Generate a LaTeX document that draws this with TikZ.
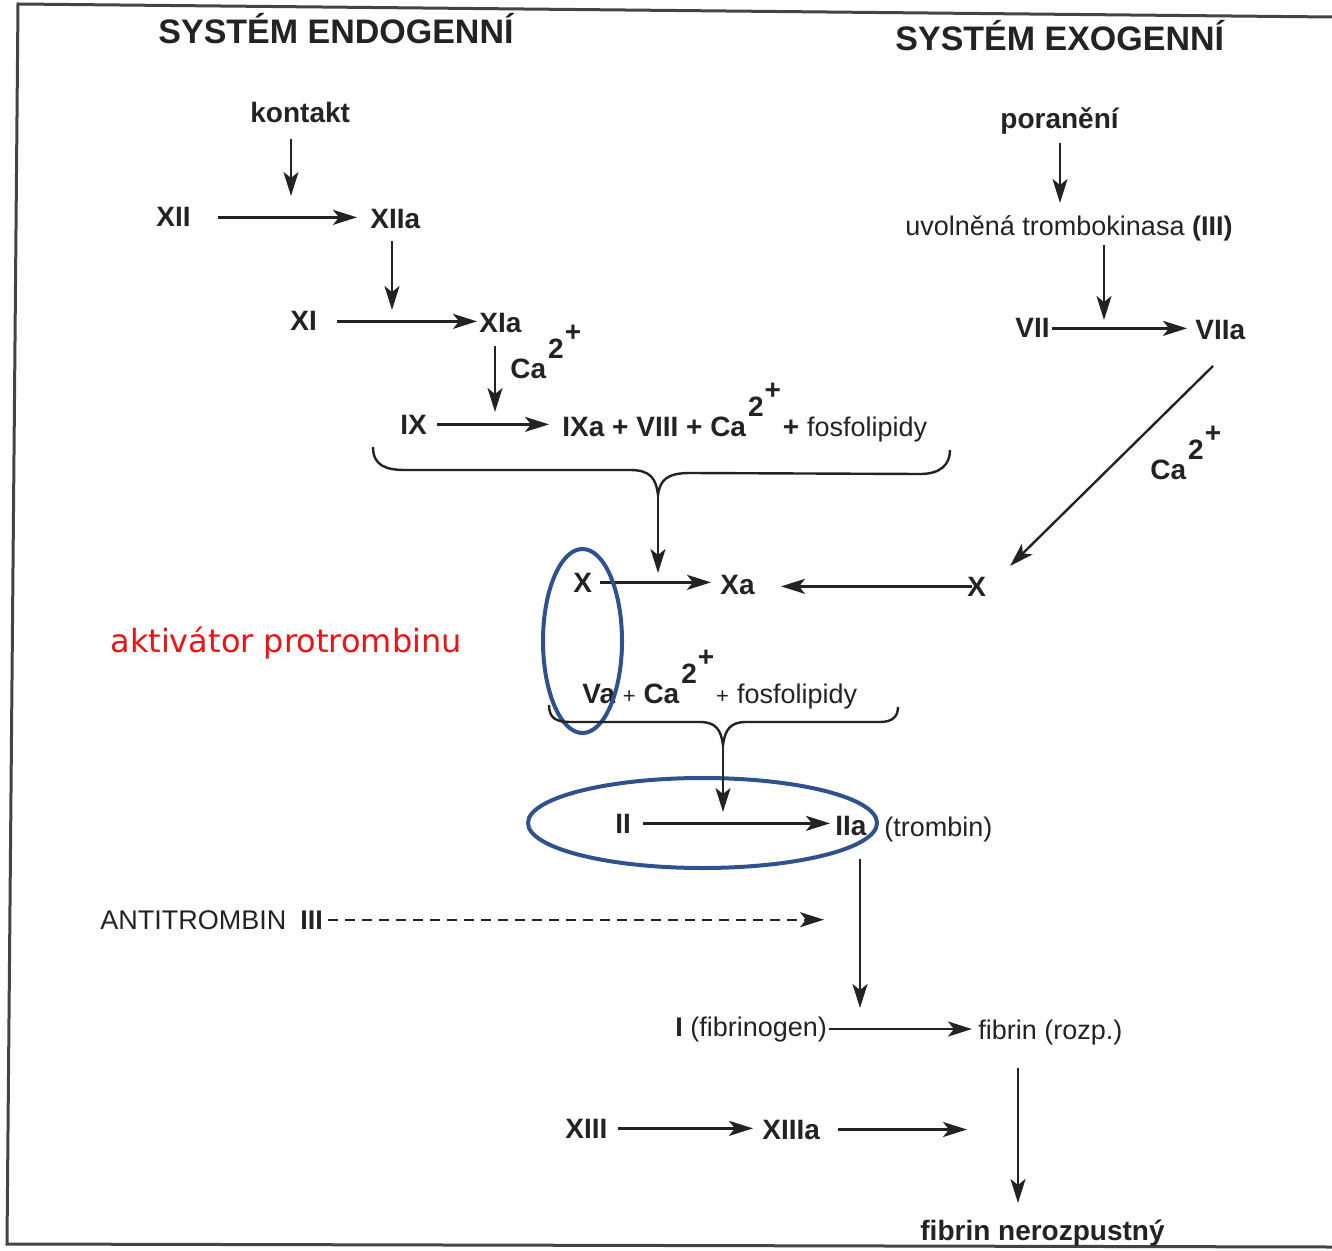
\documentclass[tikz,border=0pt]{standalone}
\usepackage{fontspec}
\setmainfont{Liberation Sans}
\newfontfamily\dejavu{DejaVu Sans}
\usetikzlibrary{arrows.meta}
\definecolor{ellblue}{RGB}{47,82,143}
\definecolor{ink}{RGB}{35,35,35}
\definecolor{redtxt}{RGB}{235,20,20}
\newcommand{\calc}{Ca\hspace{1pt}\raisebox{10pt}{2}\hspace{0.5pt}\raisebox{18.5pt}{+}}
\begin{document}
\begin{tikzpicture}[x=0.5pt,y=-0.5pt,
  lbl/.style={inner sep=0pt, anchor=base west, font=\fontsize{14}{16}\selectfont\bfseries, text=ink},
  rlbl/.style={inner sep=0pt, anchor=base west, font=\fontsize{13.5}{16}\selectfont, text=ink},
  ttl/.style={inner sep=0pt, anchor=base west, font=\fontsize{17}{20}\selectfont\bfseries, text=ink},
  redlbl/.style={inner sep=0pt, anchor=base west, font=\dejavu\fontsize{16}{19}\selectfont, text=redtxt},
  arr/.style={draw=ink, line width=1.2pt, -{Stealth[length=12pt,width=7.5pt,inset=3pt]}},
  dasharr/.style={arr, dash pattern=on 5pt off 3.5pt},
  bracel/.style={draw=ink, line width=1.2pt},
  ell/.style={draw=ellblue, line width=2pt},
  frame/.style={draw=ink!85, line width=1.5pt},
]
\useasboundingbox (0,0) rectangle (1332,1251);

% frame
\draw[frame] (1332,17) -- (18,4) -- (7,1244) -- (1332,1247);

% titles
\node[ttl] (endo) at (158,44) {SYSTÉM ENDOGENNÍ};
\node[ttl] (exo) at (895,51) {SYSTÉM EXOGENNÍ};

% endogenous branch
\node[lbl] (kontakt) at (250,123) {kontakt};
\node[lbl] (XII) at (156,227) {XII};
\node[lbl] (XIIa) at (370,229) {XIIa};
\node[lbl] (XI) at (290,331) {XI};
\node[lbl] (XIa) at (479,333) {XIa};
\node[lbl] (ca1) at (510,379) {\calc};
\node[lbl] (IX) at (400,434) {IX};
\node[lbl] (IXa) at (562,437) {IXa + VIII + \calc\hspace{1pt}+ {\mdseries\fontsize{13.5}{16}\selectfont fosfolipidy}};

% exogenous branch
\node[lbl] (poraneni) at (1000,129) {poranění};
\node[rlbl] (tromb) at (905,236) {uvolněná trombokinasa \textbf{(III)}};
\node[lbl] (VII) at (1015,338) {VII};
\node[lbl] (VIIa) at (1195,340) {VIIa};
\node[lbl] (ca2) at (1150,479) {\calc};

% common pathway
\node[lbl] (X) at (573,592) {X};
\node[lbl] (Xa) at (720,594) {Xa};
\node[lbl] (Xr) at (967,596) {X};
\node[redlbl] (akt) at (110,652) {aktivátor protrombinu};
\node[lbl] (Va) at (582,703) {Va {\mdseries\fontsize{11}{13}\selectfont +} \calc\hspace{1pt}{\mdseries\fontsize{11}{13}\selectfont +}\hspace{4pt}{\mdseries\fontsize{13.5}{16}\selectfont fosfolipidy}};
\node[lbl] (II) at (615,833) {II};
\node[lbl] (IIa) at (835,835) {IIa};
\node[rlbl] (trombin) at (884,836) {(trombin)};
\node[rlbl] (anti) at (100,929) {ANTITROMBIN\hspace{7pt}\textbf{III}};
\node[rlbl] (fibrinogen) at (675,1036) {\textbf{I} (fibrinogen)};
\node[rlbl] (fibrin) at (978,1039) {fibrin (rozp.)};
\node[lbl] (XIII) at (565,1138) {XIII};
\node[lbl] (XIIIa) at (762,1139) {XIIIa};
\node[lbl] (nerozp) at (920,1240) {fibrin nerozpustný};

% landing points of catalysis arrows
\coordinate (t1) at (291,196);
\coordinate (t2) at (392,310);
\coordinate (t3) at (495,412);
\coordinate (t4) at (1060,203);
\coordinate (t5) at (1104,320);
\coordinate (d1) at (1213,366);
\coordinate (d2) at (1010,566);
\coordinate (b1) at (658,495);
\coordinate (t6) at (658,573);
\coordinate (b2) at (723,745);
\coordinate (t7) at (723,812);
\coordinate (t8) at (860,1008);
\coordinate (t9) at (824,924);
\coordinate (t10) at (1018,1203);
\coordinate (t11) at (967,1131);

% endogenous arrows
\draw[arr, shorten <=7.5pt] (kontakt.south -| t1) -- (t1);
\draw[arr, shorten <=13.5pt, shorten >=6.5pt] (XII.east) -- (XII.east -| XIIa.west);
\draw[arr, shorten <=5.5pt] (XIIa.south -| t2) -- (t2);
\draw[arr, shorten <=10pt, shorten >=1pt] (XI.east) -- (XI.east -| XIa.west);
\draw[arr, shorten <=6pt] (XIa.south -| t3) -- (t3);
\draw[arr, shorten <=5pt, shorten >=6.5pt] (IX.east) -- (IX.east -| IXa.west);

% exogenous arrows
\draw[arr, shorten <=4pt] (poraneni.south -| t4) -- (t4);
\draw[arr, shorten <=1.5pt] (tromb.south -| t5) -- (t5);
\draw[arr, shorten <=1pt, shorten >=4pt] (VII.east) -- (VII.east -| VIIa.west);
\draw[arr] (d1) -- (d2);

% brace 1 and arrow to X -> Xa
\draw[bracel] (373,447) .. controls (373,465) and (385,470) .. (405,470) -- (630,470)
  .. controls (650,470) and (656,478) .. (b1)
  .. controls (660,480) and (667,473) .. (690,473) -- (920,474)
  .. controls (940,474) and (950,465) .. (950,450);
\draw[arr] (b1) -- (t6);

\draw[arr, shorten <=4pt, shorten >=4.5pt] (X.east) -- (X.east -| Xa.west);
\draw[arr, shorten <=-2.5pt, shorten >=13pt] (Xr.west) -- (Xr.west -| Xa.east);

% ellipses
\draw[ell] (582.5,641) ellipse [x radius=19.75pt, y radius=46pt];
\draw[ell] (702.5,823) ellipse [x radius=87.25pt, y radius=22.5pt];

% brace 2 and arrow to II -> IIa
\draw[bracel] (549,705) .. controls (549,718) and (556,722) .. (570,722) -- (700,722)
  .. controls (716,722) and (721,730) .. (b2)
  .. controls (725,730) and (730,722) .. (746,722) -- (880,722)
  .. controls (893,722) and (898,716) .. (898,707);
\draw[arr] (b2) -- (t7);

\draw[arr, shorten <=6pt, shorten >=2.5pt] (II.east) -- (II.east -| IIa.west);
\draw[arr, shorten <=11.5pt] (IIa.south -| t8) -- (t8);
\draw[dasharr, shorten <=2.5pt] (anti.east) -- (anti.east -| t9);
\draw[arr, shorten <=1pt, shorten >=3pt] (fibrinogen.east) -- (fibrinogen.east -| fibrin.west);
\draw[arr, shorten <=11.5pt] (fibrin.south -| t10) -- (t10);
\draw[arr, shorten <=5pt, shorten >=4.5pt] (XIII.east) -- (XIII.east -| XIIIa.west);
\draw[arr, shorten <=9pt] (XIIIa.east) -- (XIIIa.east -| t11);
\end{tikzpicture}
\end{document}
